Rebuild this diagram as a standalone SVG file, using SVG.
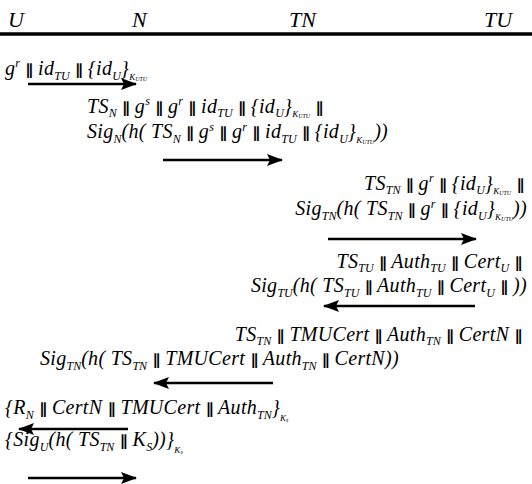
<svg xmlns="http://www.w3.org/2000/svg" width="532" height="484" viewBox="0 0 532 484">
<style>
text { font-family: "Liberation Serif", "Times New Roman", serif; font-style: italic; font-size: 20px; fill: #000; letter-spacing: 0.3px; }
.h { font-size: 22px; letter-spacing: 0; }
.s { font-size: 12px; letter-spacing: 0; }
.k { font-size: 9px; letter-spacing: 0; }
.kk { font-size: 6px; letter-spacing: 0; }
.p { font-family: "DejaVu Sans", sans-serif; font-style: normal; font-size: 15px; font-weight: bold; letter-spacing: 0; }
.arrow { stroke: #000; stroke-width: 2.5; fill: none; marker-end: url(#ah); }
</style>
<defs>
<marker id="ah" markerWidth="16" markerHeight="12" refX="15" refY="6" orient="auto" markerUnits="userSpaceOnUse">
<path d="M0,0 L16,6 L0,12 L3,6 Z" fill="#000"/>
</marker>
</defs>
<g id="header">
<text class="h" x="8" y="27">U</text>
<text class="h" x="132" y="27">N</text>
<text class="h" x="289" y="27">TN</text>
<text class="h" x="484" y="27">TU</text>
<line x1="0" y1="34" x2="532" y2="34" stroke="#000" stroke-width="3.5"/>
</g>
<g id="labels">
<text id="m1" x="5" y="75">g<tspan class="s" dy="-8">r</tspan><tspan dy="8"> </tspan><tspan class="p">∥</tspan> id<tspan class="s" dy="5">TU</tspan><tspan dy="-5"> </tspan><tspan class="p">∥</tspan> {id<tspan class="s" dy="5">U</tspan><tspan dy="-5">}</tspan><tspan class="k" dy="5">K</tspan><tspan class="kk" dy="1">UTU</tspan></text>
<text id="m2a" x="87" y="113">TS<tspan class="s" dy="4">N</tspan><tspan dy="-4"> </tspan><tspan class="p">∥</tspan> g<tspan class="s" dy="-8">s</tspan><tspan dy="8"> </tspan><tspan class="p">∥</tspan> g<tspan class="s" dy="-8">r</tspan><tspan dy="8"> </tspan><tspan class="p">∥</tspan> id<tspan class="s" dy="4">TU</tspan><tspan dy="-4"> </tspan><tspan class="p">∥</tspan> {id<tspan class="s" dy="4">U</tspan><tspan dy="-4">}</tspan><tspan class="k" dy="4">K</tspan><tspan class="kk" dy="1">UTU</tspan><tspan dy="-5"> </tspan><tspan class="p">∥</tspan></text>
<text id="m2b" x="87" y="138">Sig<tspan class="s" dy="5">N</tspan><tspan dy="-5">(h( TS</tspan><tspan class="s" dy="5">N</tspan><tspan dy="-5"> </tspan><tspan class="p">∥</tspan> g<tspan class="s" dy="-7">s</tspan><tspan dy="7"> </tspan><tspan class="p">∥</tspan> g<tspan class="s" dy="-7">r</tspan><tspan dy="7"> </tspan><tspan class="p">∥</tspan> id<tspan class="s" dy="5">TU</tspan><tspan dy="-5"> </tspan><tspan class="p">∥</tspan> {id<tspan class="s" dy="5">U</tspan><tspan dy="-5">}</tspan><tspan class="k" dy="5">K</tspan><tspan class="kk" dy="1">UTU</tspan><tspan dy="-6">))</tspan></text>
<text id="m3a" x="524" y="190" text-anchor="end">TS<tspan class="s" dy="4">TN</tspan><tspan dy="-4"> </tspan><tspan class="p">∥</tspan> g<tspan class="s" dy="-8">r</tspan><tspan dy="8"> </tspan><tspan class="p">∥</tspan> {id<tspan class="s" dy="4">U</tspan><tspan dy="-4">}</tspan><tspan class="k" dy="4">K</tspan><tspan class="kk" dy="1">UTU</tspan><tspan dy="-5"> </tspan><tspan class="p">∥</tspan></text>
<text id="m3b" x="527" y="215" text-anchor="end">Sig<tspan class="s" dy="5">TN</tspan><tspan dy="-5">(h( TS</tspan><tspan class="s" dy="5">TN</tspan><tspan dy="-5"> </tspan><tspan class="p">∥</tspan> g<tspan class="s" dy="-7">r</tspan><tspan dy="7"> </tspan><tspan class="p">∥</tspan> {id<tspan class="s" dy="5">U</tspan><tspan dy="-5">}</tspan><tspan class="k" dy="5">K</tspan><tspan class="kk" dy="1">UTU</tspan><tspan dy="-6">))</tspan></text>
<text id="m4a" x="522" y="268" text-anchor="end">TS<tspan class="s" dy="4">TU</tspan><tspan dy="-4"> </tspan><tspan class="p">∥</tspan> Auth<tspan class="s" dy="4">TU</tspan><tspan dy="-4"> </tspan><tspan class="p">∥</tspan> Cert<tspan class="s" dy="4">U</tspan><tspan dy="-4"> </tspan><tspan class="p">∥</tspan></text>
<text id="m4b" x="527" y="292" text-anchor="end">Sig<tspan class="s" dy="5">TU</tspan><tspan dy="-5">(h( TS</tspan><tspan class="s" dy="5">TU</tspan><tspan dy="-5"> </tspan><tspan class="p">∥</tspan> Auth<tspan class="s" dy="5">TU</tspan><tspan dy="-5"> </tspan><tspan class="p">∥</tspan> Cert<tspan class="s" dy="5">U</tspan><tspan dy="-5"> </tspan><tspan class="p">∥</tspan> ))</text>
<text id="m5a" x="522" y="341" text-anchor="end">TS<tspan class="s" dy="4">TN</tspan><tspan dy="-4"> </tspan><tspan class="p">∥</tspan> TMUCert <tspan class="p">∥</tspan> Auth<tspan class="s" dy="4">TN</tspan><tspan dy="-4"> </tspan><tspan class="p">∥</tspan> CertN <tspan class="p">∥</tspan></text>
<text id="m5b" x="40" y="365">Sig<tspan class="s" dy="5">TN</tspan><tspan dy="-5">(h( TS</tspan><tspan class="s" dy="5">TN</tspan><tspan dy="-5"> </tspan><tspan class="p">∥</tspan> TMUCert <tspan class="p">∥</tspan> Auth<tspan class="s" dy="5">TN</tspan><tspan dy="-5"> </tspan><tspan class="p">∥</tspan> CertN))</text>
<text id="m6" x="5" y="414">{R<tspan class="s" dy="5">N</tspan><tspan dy="-5"> </tspan><tspan class="p">∥</tspan> CertN <tspan class="p">∥</tspan> TMUCert <tspan class="p">∥</tspan> Auth<tspan class="s" dy="5">TN</tspan><tspan dy="-5">}</tspan><tspan class="k" dy="7">K</tspan><tspan class="kk" dy="1">s</tspan></text>
<text id="m7" x="5" y="446">{Sig<tspan class="s" dy="5">U</tspan><tspan dy="-5">(h( TS</tspan><tspan class="s" dy="5">TN</tspan><tspan dy="-5"> </tspan><tspan class="p">∥</tspan> K<tspan class="s" dy="5">S</tspan><tspan dy="-5">))}</tspan><tspan class="k" dy="7">K</tspan><tspan class="kk" dy="1">s</tspan></text>
</g>
<g id="connectors">
<line class="arrow" x1="28" y1="84" x2="136" y2="84"/>
<line class="arrow" x1="163" y1="160" x2="282" y2="160"/>
<line class="arrow" x1="328" y1="239" x2="476" y2="239"/>
<line class="arrow" x1="475" y1="306" x2="324" y2="306"/>
<line class="arrow" x1="273" y1="383" x2="154" y2="383"/>
<line class="arrow" x1="128" y1="429" x2="19" y2="429"/>
<line class="arrow" x1="28" y1="478" x2="136" y2="478"/>
</g>
</svg>
